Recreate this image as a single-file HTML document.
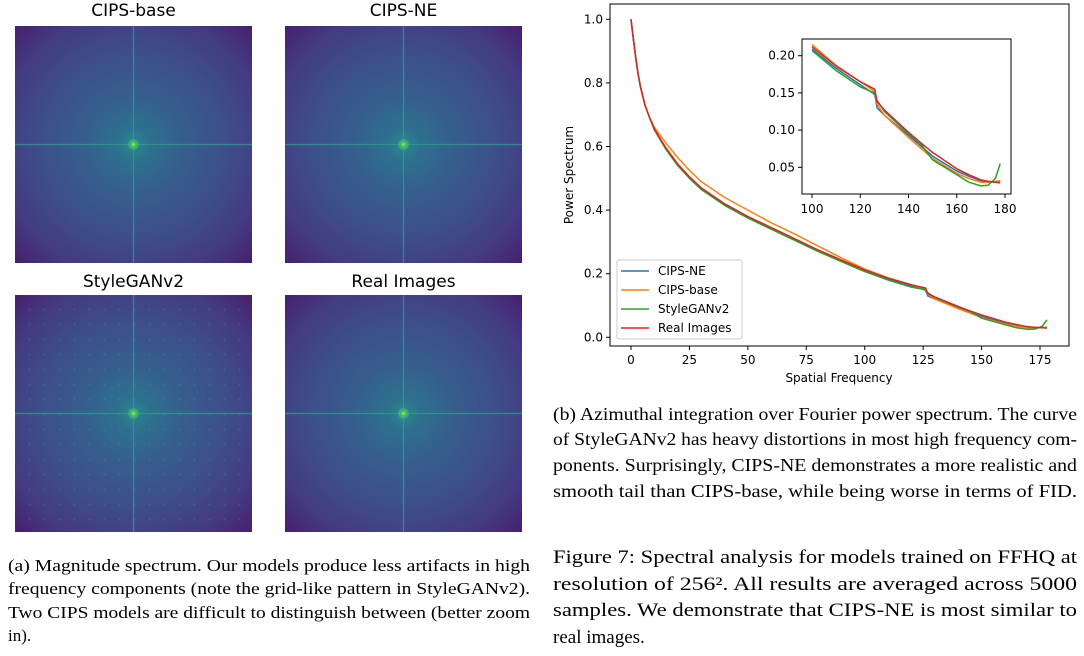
<!DOCTYPE html>
<html><head><meta charset="utf-8">
<style>
html,body{margin:0;padding:0;background:#fff;}
body{width:1084px;height:656px;position:relative;overflow:hidden;font-family:"DejaVu Sans","Liberation Sans",sans-serif;}
.spec{position:absolute;width:237px;height:237px;overflow:hidden;
background:radial-gradient(ellipse at center,#2a8a8c 0%,#2d708e 10%,#365e8d 30%,#3d4e8a 55%,#443a83 80%,#471f6e 100%);}
.spec .h{position:absolute;left:0;right:0;top:118px;height:1px;background:#2fa08a;opacity:.75;box-shadow:0 0 2px #2a8a8c}
.spec .v{position:absolute;top:0;bottom:0;left:118px;width:1px;background:#2fa08a;opacity:.75;box-shadow:0 0 2px #2a8a8c}
.spec .c{position:absolute;left:113px;top:113px;width:11px;height:11px;border-radius:50%;background:radial-gradient(circle,#d0e020 0%,#3ec070 30%,rgba(40,150,140,0) 100%)}
.spec.grid{background-image:radial-gradient(circle,rgba(90,170,190,.3) 0px,rgba(90,170,190,0) 1.5px),radial-gradient(ellipse at center,#2a8a8c 0%,#2d708e 10%,#365e8d 30%,#3d4e8a 55%,#443a83 80%,#471f6e 100%);background-size:15px 15px,100% 100%;background-position:7px 7px,0 0;}
.ttl{position:absolute;width:237px;text-align:center;font-size:17px;color:#000;}
</style></head><body>
<div class="ttl" style="left:15px;top:1px">CIPS-base</div>
<div class="spec" style="left:15px;top:26px"><div class="h"></div><div class="v"></div><div class="c"></div></div>
<div class="ttl" style="left:285px;top:1px">CIPS-NE</div>
<div class="spec" style="left:285px;top:26px"><div class="h"></div><div class="v"></div><div class="c"></div></div>
<div class="ttl" style="left:15px;top:272px">StyleGANv2</div>
<div class="spec grid" style="left:15px;top:295px"><div class="h"></div><div class="v"></div><div class="c"></div></div>
<div class="ttl" style="left:285px;top:272px">Real Images</div>
<div class="spec" style="left:285px;top:295px"><div class="h"></div><div class="v"></div><div class="c"></div></div>

<svg id="chart" style="position:absolute;left:0;top:0" width="1084" height="656" xmlns="http://www.w3.org/2000/svg">
<g font-family="Liberation Serif, serif" fill="#000">
<text x="8" y="571" font-size="17" textLength="522" lengthAdjust="spacingAndGlyphs">(a) Magnitude spectrum. Our models produce less artifacts in high</text>
<text x="8" y="594" font-size="17" textLength="522" lengthAdjust="spacingAndGlyphs">frequency components (note the grid-like pattern in StyleGANv2).</text>
<text x="8" y="618" font-size="17" textLength="522" lengthAdjust="spacingAndGlyphs">Two CIPS models are difficult to distinguish between (better zoom</text>
<text x="8" y="641" font-size="17">in).</text>
<text x="553" y="420" font-size="18" textLength="524" lengthAdjust="spacingAndGlyphs">(b) Azimuthal integration over Fourier power spectrum. The curve</text>
<text x="553" y="445" font-size="18" textLength="524" lengthAdjust="spacingAndGlyphs">of StyleGANv2 has heavy distortions in most high frequency com-</text>
<text x="553" y="471" font-size="18" textLength="524" lengthAdjust="spacingAndGlyphs">ponents. Surprisingly, CIPS-NE demonstrates a more realistic and</text>
<text x="553" y="497" font-size="18" textLength="524" lengthAdjust="spacingAndGlyphs">smooth tail than CIPS-base, while being worse in terms of FID.</text>
<text x="553" y="563" font-size="19" textLength="524" lengthAdjust="spacingAndGlyphs">Figure 7: Spectral analysis for models trained on FFHQ at</text>
<text x="553" y="590" font-size="19" textLength="524" lengthAdjust="spacingAndGlyphs">resolution of 256².  All results are averaged across 5000</text>
<text x="553" y="616" font-size="19" textLength="524" lengthAdjust="spacingAndGlyphs">samples. We demonstrate that CIPS-NE is most similar to</text>
<text x="553" y="643" font-size="19">real images.</text>
</g>
<g id="plot"></g>
</svg>
<script>
const freqs =     [0,1,2,3,4,6,8,10,15,20,25,30,40,50,60,70,80,90,100,110,120,126,127,130,140,145,150,160,165,170,173,176,178];
const realImgs =  [1.0,0.94,0.88,0.83,0.79,0.73,0.69,0.655,0.595,0.545,0.505,0.47,0.42,0.38,0.345,0.31,0.275,0.243,0.212,0.186,0.165,0.155,0.138,0.127,0.097,0.083,0.07,0.048,0.04,0.033,0.031,0.03,0.029];
const cipsBase =  [1.0,0.94,0.88,0.83,0.79,0.73,0.69,0.66,0.61,0.565,0.525,0.49,0.44,0.40,0.36,0.325,0.287,0.25,0.215,0.187,0.165,0.152,0.135,0.12,0.09,0.076,0.062,0.042,0.035,0.03,0.03,0.031,0.032];
const cipsNE =    [1.0,0.94,0.88,0.83,0.79,0.73,0.69,0.653,0.592,0.542,0.502,0.467,0.417,0.377,0.342,0.307,0.272,0.24,0.209,0.183,0.161,0.148,0.13,0.12,0.093,0.079,0.065,0.045,0.038,0.032,0.031,0.03,0.03];
const styleGAN =  [1.0,0.94,0.88,0.83,0.79,0.73,0.69,0.652,0.59,0.54,0.5,0.465,0.415,0.375,0.34,0.305,0.27,0.238,0.207,0.18,0.158,0.15,0.14,0.125,0.095,0.082,0.06,0.04,0.03,0.025,0.026,0.035,0.055];
const seriesNames = ["CIPS-NE","CIPS-base","StyleGANv2","Real Images"];
const seriesColors = ["#1f77b4","#ff7f0e","#2ca02c","#d62728"];
const seriesData = [cipsNE,cipsBase,styleGAN,realImgs];
const mainXTicks = [0,25,50,75,100,125,150,175];
const mainYTicks = [0.0,0.2,0.4,0.6,0.8,1.0];
const insetXTicks = [100,120,140,160,180];
const insetYTicks = [0.05,0.10,0.15,0.20];

const NS="http://www.w3.org/2000/svg";
const plot=document.getElementById('plot');
function mk(tag,attrs,parent){const e=document.createElementNS(NS,tag);for(const k in attrs)e.setAttribute(k,attrs[k]);(parent||plot).appendChild(e);return e;}
function lin(d0,d1,r0,r1){return v=>r0+(v-d0)*(r1-r0)/(d1-d0);}

const mx=lin(0,175,631,1040), my=lin(0,1,337.3,19.3);
let e=mk('rect',{x:610,y:4,width:459,height:342,fill:'none',stroke:'#000','stroke-width':1});


mainXTicks.forEach(t=>{
  mk('line',{x1:mx(t),x2:mx(t),y1:346,y2:350,stroke:'#000'});
  const tx=mk('text',{x:mx(t),y:364,'font-size':12,'text-anchor':'middle','font-family':'DejaVu Sans, sans-serif'});
  tx.textContent=t;
  
  
});
mainYTicks.forEach(t=>{
  mk('line',{x1:606,x2:610,y1:my(t),y2:my(t),stroke:'#000'});
  const tx=mk('text',{x:603,y:my(t)+4,'font-size':12,'text-anchor':'end','font-family':'DejaVu Sans, sans-serif'});
  tx.textContent=t.toFixed(1);
  
  
});
e=mk('text',{x:839,y:382,'font-size':12,'text-anchor':'middle','font-family':'DejaVu Sans, sans-serif'});
e.textContent='Spatial Frequency';


e=mk('text',{x:0,y:0,'font-size':12,'text-anchor':'middle','font-family':'DejaVu Sans, sans-serif',transform:'translate(573,175) rotate(-90)'});
e.textContent='Power Spectrum';



function pathFor(arr,fx,fy,minX){
  let d='';freqs.forEach((f,i)=>{if(f<minX)return;d+=(d?'L':'M')+fx(f).toFixed(1)+','+fy(arr[i]).toFixed(1);});return d;
}
seriesData.forEach((arr,i)=>{
  const p=mk('path',{d:pathFor(arr,mx,my,0),fill:'none',stroke:seriesColors[i],'stroke-width':1.5,'stroke-linejoin':'round'});
  
  
});

e=mk('rect',{x:617,y:260,width:125,height:79,fill:'#fff','fill-opacity':0.85,stroke:'#ccc',rx:2});


seriesNames.forEach((n,i)=>{
  const y=271+i*19;
  mk('line',{x1:621,x2:649,y1:y,y2:y,stroke:seriesColors[i],'stroke-width':1.5});
  const t=mk('text',{x:658,y:y+4,'font-size':12,'font-family':'DejaVu Sans, sans-serif'});
  t.textContent=n;
  
  
});

const ix=lin(100,180,812,1005), iy=lin(0.05,0.20,167.3,55.7);
mk('clipPath',{id:'ic'}).appendChild((()=>{const r=document.createElementNS(NS,'rect');r.setAttribute('x',802);r.setAttribute('y',39);r.setAttribute('width',209);r.setAttribute('height',155);return r;})());
e=mk('rect',{x:802,y:39,width:209,height:155,fill:'#fff',stroke:'#000'});


const ig=mk('g',{'clip-path':'url(#ic)'});
seriesData.forEach((arr,i)=>{
  const p=mk('path',{d:pathFor(arr,ix,iy,100),fill:'none',stroke:seriesColors[i],'stroke-width':1.5,'stroke-linejoin':'round'},ig);
  
  
});
insetXTicks.forEach(t=>{
  mk('line',{x1:ix(t),x2:ix(t),y1:194,y2:198,stroke:'#000'});
  const tx=mk('text',{x:ix(t),y:213,'font-size':12,'text-anchor':'middle','font-family':'DejaVu Sans, sans-serif'});
  tx.textContent=t;
  
  
});
insetYTicks.forEach(t=>{
  mk('line',{x1:798,x2:802,y1:iy(t),y2:iy(t),stroke:'#000'});
  const tx=mk('text',{x:795,y:iy(t)+4,'font-size':12,'text-anchor':'end','font-family':'DejaVu Sans, sans-serif'});
  tx.textContent=t.toFixed(2);
  
  
});
</script>
</body></html>
